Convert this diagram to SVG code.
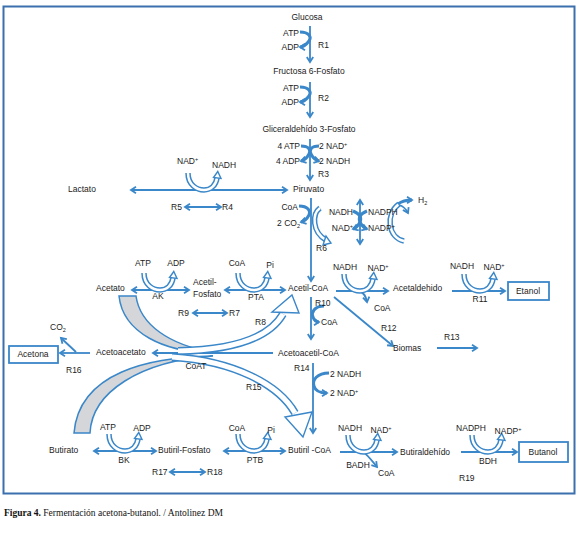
<svg xmlns="http://www.w3.org/2000/svg" xmlns:xlink="http://www.w3.org/1999/xlink" width="579" height="534" viewBox="0 0 579 534">
<style>
text{font-family:"Liberation Sans",Arial,sans-serif;font-size:8.5px;fill:#222}
.m{text-anchor:middle}
.e{text-anchor:end}
.ln{stroke:#3a87c9;stroke-width:1.8;fill:none}
.a{marker-end:url(#ah)}
.d{marker-end:url(#ah);marker-start:url(#ah)}
.cv{stroke:#3a87c9;stroke-width:3;fill:none;marker-end:url(#ah)}
.box{fill:#fff;stroke:#3a87c9;stroke-width:1.8}
.ho{stroke:#3a87c9;stroke-width:5.5;fill:none}
.hi{stroke:#fff;stroke-width:2.5;fill:none}
.hob{stroke:#3a87c9;stroke-width:8;fill:none}
.hib{stroke:#fff;stroke-width:5;fill:none}
.hh{fill:#fff;stroke:#3a87c9;stroke-width:1.4;stroke-linejoin:miter}
.gr{fill:#d4d6d9;stroke:#3a87c9;stroke-width:1.5}
.cap{font-family:"Liberation Serif","Times New Roman",serif;font-size:9.5px;fill:#111}
</style>
<defs>
<marker id="ah" markerUnits="userSpaceOnUse" markerWidth="9" markerHeight="9" refX="6" refY="4" orient="auto-start-reverse">
<path d="M1,0.8 L6,4 L1,7.2" fill="none" stroke="#3a87c9" stroke-width="1.8"/>
</marker>
<g id="cof">
<path class="ho" d="M-16,-17 C-16,-5 -7,0 0,0 C7,0 12,-5 13,-12"/>
<path class="hi" d="M-16,-17 C-16,-5 -7,0 0,0 C7,0 12,-5 13,-12"/>
<polygon class="hh" points="13.8,-18.5 17,-11.5 9.5,-12.5"/>
</g>
</defs>

<rect x="3.5" y="6.5" width="571" height="487" fill="none" stroke="#3b6fae" stroke-width="2"/>

<g id="connectors">
<line class="ln a" x1="310" y1="26" x2="310" y2="62"/>
<line class="ln a" x1="310" y1="82" x2="310" y2="117"/>
<line class="ln a" x1="310" y1="139" x2="310" y2="180"/>
<line class="ln d" x1="131" y1="190" x2="287" y2="190"/>
<line class="ln d" x1="185" y1="207" x2="221" y2="207"/>
<line class="ln a" x1="311" y1="198" x2="311" y2="281"/>
<line class="ln d" x1="132" y1="290" x2="189" y2="290"/>
<line class="ln d" x1="225" y1="290" x2="285" y2="290"/>
<line class="ln d" x1="193" y1="313" x2="227" y2="313"/>
<line class="ln a" x1="336" y1="291" x2="388" y2="291"/>
<line class="ln a" x1="452" y1="291" x2="505" y2="291"/>
<line class="ln a" x1="334" y1="297" x2="393" y2="346"/>
<line class="ln a" x1="437" y1="348" x2="477" y2="348"/>
<line class="ln a" x1="311" y1="297" x2="311" y2="339"/>
<line class="ln a" x1="273" y1="353" x2="153" y2="353"/>
<line class="ln a" x1="90" y1="353" x2="60" y2="353"/>
<line class="ln a" x1="76" y1="352" x2="61" y2="338"/>
<line class="ln a" x1="313" y1="363" x2="313" y2="433"/>
<line class="ln d" x1="94" y1="451" x2="156" y2="451"/>
<line class="ln d" x1="224" y1="451" x2="285" y2="451"/>
<line class="ln d" x1="170" y1="472" x2="205" y2="472"/>
<line class="ln a" x1="340" y1="452" x2="397" y2="452"/>
<line class="ln a" x1="461" y1="452" x2="517" y2="452"/>

<path class="cv" d="M300,32 C309,32 312,37 309,41 C306,45 304,47 300,47"/>
<path class="cv" d="M300,87 C309,87 312,92 309,96 C306,100 304,102 300,102"/>
<path class="cv" d="M301,146 C309,146 311,150 309,154 C307,158 305,160 301,161"/>
<path class="cv" d="M319,146 C311,146 309,150 311,154 C313,158 315,160 319,161"/>
<path class="cv" d="M299,206 C308,206 311,211 309,215 C307,219 305,221 301,222"/>
<path class="cv" d="M353,211 C360,214 362,218 360,222 C358,226 356,228 353,229"/>
<path class="cv" d="M367,211 C360,214 358,218 360,222 C362,226 364,228 367,229"/>
<line class="ln d" x1="360" y1="200" x2="360" y2="244"/>
<path class="cv" d="M324,306 C314,306 311,313 313,317 C314,320 316,322 319,322"/>
<path class="cv" d="M329,373 C317,373 312,380 314,386 C315,390 318,393 327,393"/>
<path class="ln a" d="M358,291 C364,292 366,296 367,302"/>
<path class="ln a" d="M363,452 C368,455 372,461 377,467"/>

<path class="ho" d="M320,208 C312,214 312,232 326,240"/>
<path class="hi" d="M320,208 C312,214 312,232 326,240"/>
<polygon class="hh" points="331,243 323,245 326,236"/>
<path class="ho" d="M404,241 C388,238 385,214 399,204"/>
<path class="hi" d="M404,241 C388,238 385,214 399,204"/>
<path class="cv" d="M398,204 C402,201 406,200 412,200"/>
<path class="ln a" d="M399,205 C403,206 406,209 408,213"/>

<path class="gr" d="M119,296 L136,296 C140,325 170,345 212,352 C165,353 123,333 119,296 Z"/>
<path class="gr" d="M74,433 L90,433 C92,392 140,361 213,356 C150,357 79,372 74,433 Z"/>

<path class="hob" d="M178,351 C230,350 268,340 283,314"/>
<path class="hib" d="M178,351 C230,350 268,340 283,314"/>
<polygon class="hh" points="292,295 299,313 272,312"/>
<path class="hob" d="M172,357 C235,361 279,385 295,413"/>
<path class="hib" d="M172,357 C235,361 279,385 295,413"/>
<polygon class="hh" points="303,437 285,417 312,412"/>

<use xlink:href="#cof" x="204" y="190"/>
<use xlink:href="#cof" x="160" y="290"/>
<use xlink:href="#cof" x="254" y="290"/>
<use xlink:href="#cof" x="360" y="291"/>
<use xlink:href="#cof" x="480" y="291"/>
<use xlink:href="#cof" x="125" y="451"/>
<use xlink:href="#cof" x="254" y="451"/>
<use xlink:href="#cof" x="364" y="452"/>
<use xlink:href="#cof" x="488" y="452"/>
</g>

<g id="n-glucosa"><text class="m" x="307" y="20">Glucosa</text></g>
<g id="r1"><text class="e" x="299" y="36">ATP</text><text class="e" x="299" y="50">ADP</text><text x="318" y="48">R1</text></g>
<g id="n-f6p"><text class="m" x="309" y="74">Fructosa 6-Fosfato</text></g>
<g id="r2"><text class="e" x="299" y="91">ATP</text><text class="e" x="299" y="105">ADP</text><text x="318" y="101">R2</text></g>
<g id="n-g3p"><text class="m" x="309" y="132">Gliceraldehído 3-Fosfato</text></g>
<g id="r3"><text class="e" x="300" y="149">4 ATP</text><text class="e" x="300" y="164">4 ADP</text><text x="319" y="149">2 NAD<tspan font-size="5.5" dy="-3">+</tspan></text><text x="319" y="164">2 NADH</text><text x="318" y="177">R3</text></g>
<g id="n-lactato"><text x="68" y="192">Lactato</text></g>
<g id="n-piruvato"><text x="293" y="192">Piruvato</text></g>
<g id="r45"><text x="177" y="164">NAD<tspan font-size="5.5" dy="-3">+</tspan></text><text x="212" y="168">NADH</text><text x="171" y="210">R5</text><text x="222" y="210">R4</text></g>
<g id="r6"><text class="e" x="298" y="210">CoA</text><text class="e" x="300" y="226">2 CO<tspan font-size="5.5" dy="2">2</tspan></text><text x="316" y="251">R6</text>
<text class="e" x="353" y="215">NADH</text><text class="e" x="353" y="231">NAD<tspan font-size="5.5" dy="-3">+</tspan></text><text x="368" y="215">NADPH</text><text x="368" y="231">NADP<tspan font-size="5.5" dy="-3">+</tspan></text>
<text x="418" y="203">H<tspan font-size="5.5" dy="2">2</tspan></text></g>
<g id="n-acetato"><text x="96" y="291">Acetato</text></g>
<g id="ak"><text class="m" x="143" y="266">ATP</text><text class="m" x="176" y="266">ADP</text><text class="m" x="158" y="299">AK</text></g>
<g id="n-acetilfosfato"><text x="193" y="285">Acetil-</text><text x="193" y="297">Fosfato</text></g>
<g id="pta"><text class="m" x="237" y="266">CoA</text><text class="m" x="270" y="268">Pi</text><text class="m" x="256" y="300">PTA</text></g>
<g id="n-acetilcoa"><text x="288" y="291">Acetil-CoA</text></g>
<g id="r79"><text x="178" y="316">R9</text><text x="229" y="316">R7</text><text x="255" y="325">R8</text></g>
<g id="r10"><text x="315" y="306">R10</text><text x="321" y="325">CoA</text></g>
<g id="adh"><text class="m" x="345" y="270">NADH</text><text class="m" x="378" y="271">NAD<tspan font-size="5.5" dy="-3">+</tspan></text><text x="374" y="311">CoA</text></g>
<g id="n-acetaldehido"><text x="393" y="291">Acetaldehido</text></g>
<g id="r11"><text class="m" x="462" y="269">NADH</text><text class="m" x="494" y="270">NAD<tspan font-size="5.5" dy="-3">+</tspan></text><text class="m" x="480" y="302">R11</text></g>
<g id="n-etanol"><rect class="box" x="508" y="282" width="41" height="18"/><text class="m" x="528" y="294">Etanol</text></g>
<g id="n-biomas"><text x="381" y="331">R12</text><text x="393" y="351">Biomas</text><text x="444" y="340">R13</text></g>
<g id="n-acetona"><rect class="box" x="9" y="346" width="49" height="17"/><text class="m" x="33" y="357">Acetona</text><text x="50" y="330">CO<tspan font-size="5.5" dy="2">2</tspan></text><text x="66" y="373">R16</text></g>
<g id="n-acetoacetato"><text x="96" y="355">Acetoacetato</text></g>
<g id="n-acetoacetilcoa"><text x="278" y="356">Acetoacetil-CoA</text></g>
<g id="coat"><text class="m" x="196" y="369">CoAT</text><text x="246" y="390">R15</text></g>
<g id="r14"><text x="294" y="371">R14</text><text x="330" y="377">2 NADH</text><text x="330" y="396">2 NAD<tspan font-size="5.5" dy="-3">+</tspan></text></g>
<g id="n-butirato"><text x="49" y="453">Butirato</text></g>
<g id="bk"><text class="m" x="108" y="430">ATP</text><text class="m" x="142" y="431">ADP</text><text class="m" x="124" y="463">BK</text></g>
<g id="n-butirilfosfato"><text x="158" y="453">Butiril-Fosfato</text></g>
<g id="ptb"><text class="m" x="237" y="431">CoA</text><text class="m" x="271" y="433">Pi</text><text class="m" x="255" y="463">PTB</text></g>
<g id="r1718"><text x="152" y="475">R17</text><text x="207" y="475">R18</text></g>
<g id="n-butirilcoa"><text x="288" y="453">Butiril -CoA</text></g>
<g id="badh"><text class="m" x="350" y="431">NADH</text><text class="m" x="381" y="433">NAD<tspan font-size="5.5" dy="-3">+</tspan></text><text class="m" x="358" y="468">BADH</text><text x="378" y="476">CoA</text></g>
<g id="n-butiraldehido"><text x="400" y="455">Butiraldehído</text></g>
<g id="bdh"><text class="m" x="471" y="431">NADPH</text><text class="m" x="508" y="434">NADP<tspan font-size="5.5" dy="-3">+</tspan></text><text class="m" x="488" y="464">BDH</text><text x="459" y="481">R19</text></g>
<g id="n-butanol"><rect class="box" x="519" y="442" width="49" height="20"/><text class="m" x="543" y="455">Butanol</text></g>

<text class="cap" x="4" y="516"><tspan font-weight="bold">Figura 4.</tspan> Fermentación acetona-butanol. / Antolinez DM</text>
</svg>
